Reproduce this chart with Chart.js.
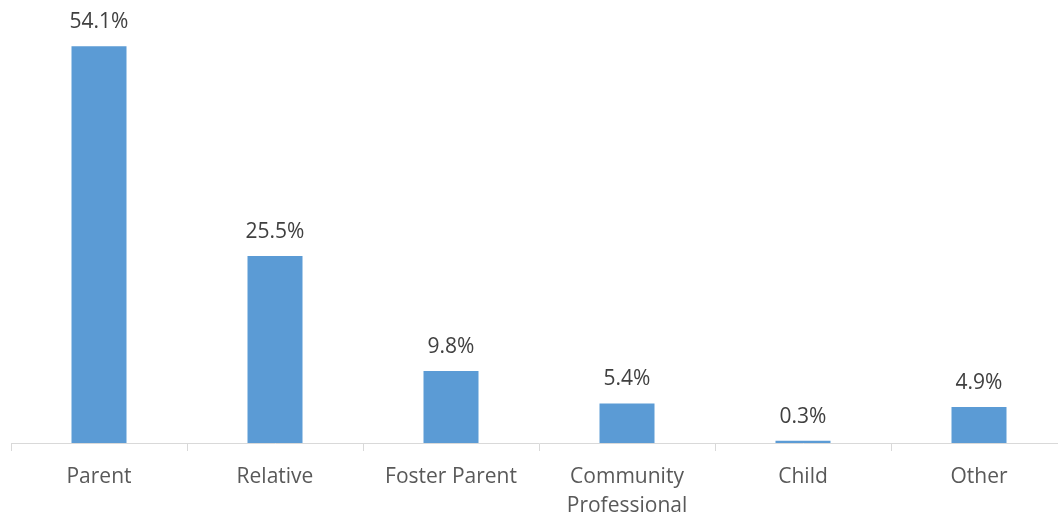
<!DOCTYPE html>
<html>
<head>
<meta charset="utf-8">
<script src="https://cdn.jsdelivr.net/npm/chart.js@4/dist/chart.umd.min.js"></script>
<style>
html,body{margin:0;padding:0;background:#fff;overflow:hidden;}
#wrap{width:1067px;height:514px;position:relative;}
</style>
</head>
<body>
<div id="wrap"><canvas id="c"></canvas></div>
<script>
const categories = ["Parent", "Relative", "Foster Parent", ["Community", "Professional"], "Child", "Other"];
const values = [54.1, 25.5, 9.8, 5.4, 0.3, 4.9];
const valueLabels = ["54.1%", "25.5%", "9.8%", "5.4%", "0.3%", "4.9%"];

const labelPlugin = {
  id: 'valLabels',
  afterDatasetsDraw(chart) {
    const ctx = chart.ctx;
    const meta = chart.getDatasetMeta(0);
    ctx.save();
    ctx.font = '21px "Open Sans"';
    ctx.fillStyle = '#404040';
    ctx.textAlign = 'center';
    ctx.textBaseline = 'alphabetic';
    meta.data.forEach((bar, i) => {
      ctx.fillText(valueLabels[i], bar.x, bar.y - 18);
    });
    ctx.restore();
  }
};

new Chart(document.getElementById('c'), {
  type: 'bar',
  data: {
    labels: categories,
    datasets: [{
      data: values,
      backgroundColor: '#5b9bd5',
      borderWidth: 0,
      barPercentage: 0.625,
      categoryPercentage: 0.5
    }]
  },
  options: {
    responsive: true,
    maintainAspectRatio: false,
    animation: false,
    layout: { padding: { left: 11, right: 0, top: 0, bottom: 0 } },
    plugins: { legend: { display: false }, tooltip: { enabled: false } },
    scales: {
      x: {
        offset: true,
        afterFit(scale) { scale.height = 71; },
        grid: {
          display: true,
          drawOnChartArea: false,
          drawTicks: true,
          tickLength: 8,
          color: '#d9d9d9',
          offset: true
        },
        border: { display: true, color: '#d9d9d9', width: 1 },
        ticks: {
          color: '#595959',
          font: { family: '"Open Sans"', size: 21, lineHeight: 1.38 },
          padding: 12,
          maxRotation: 0,
          autoSkip: false
        }
      },
      y: {
        display: false,
        min: 0,
        max: 60.4
      }
    }
  },
  plugins: [labelPlugin]
});
</script>
</body>
</html>
